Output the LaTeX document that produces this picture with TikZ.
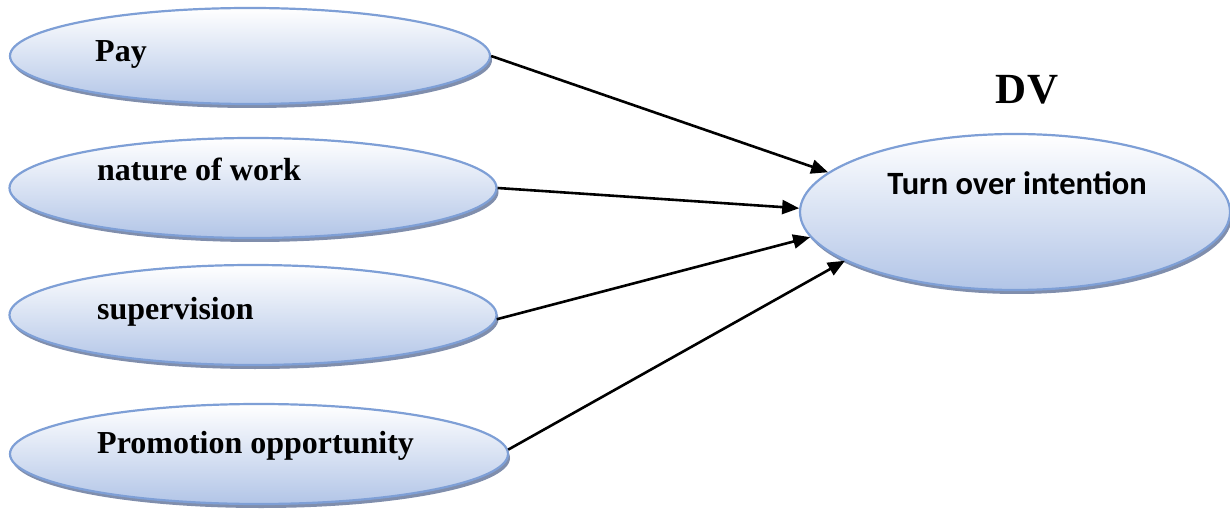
\documentclass[tikz,border=0pt]{standalone}
\usepackage{fontspec}
\setmainfont{Liberation Serif}
\newfontfamily\labelsans{Carlito}
\usetikzlibrary{shapes.geometric,shadows,arrows.meta}

\definecolor{rimblue}{RGB}{126,159,214}
\definecolor{fillblue}{RGB}{178,197,231}
\definecolor{shadowblue}{RGB}{128,142,172}

\tikzset{
  factor/.style={ellipse, draw=rimblue, line width=2.2pt, inner sep=0pt,
    top color=white, bottom color=fillblue, middle color=white!50!fillblue,
    drop shadow={shadow xshift=2pt, shadow yshift=-4pt, fill=shadowblue, opacity=1}},
  factortext/.style={anchor=base west, inner sep=0pt, font=\bfseries\fontsize{32}{32}\selectfont},
  link/.style={line width=2.6pt, -{Triangle[length=17pt,width=14pt]}}
}

\begin{document}
\begin{tikzpicture}[x=1pt,y=-1pt]
\useasboundingbox (0,0) rectangle (1230,510);

% independent factors
\node[factor, minimum width=480pt, minimum height=96pt] (pay) at (250,56) {};
\node[factor, minimum width=487pt, minimum height=100pt] (nat) at (253,188) {};
\node[factor, minimum width=487pt, minimum height=100pt] (sup) at (253,315) {};
\node[factor, minimum width=498pt, minimum height=100pt] (pro) at (259,454) {};

% dependent variable
\node[factor, minimum width=430pt, minimum height=156pt] (dv) at (1015,212) {};

\node[factortext] (payt) at (95,62) {Pay};
\node[factortext] (natt) at (97,181) {nature of work};
\node[factortext] (supt) at (97,319) {supervision};
\node[factortext] (prot) at (97,453) {Promotion opportunity};
\node[anchor=base, inner sep=0pt, font=\labelsans\bfseries\fontsize{32.5}{32.5}\selectfont] (dvt) at (1017,195) {Turn over intention};
\node[anchor=base, inner sep=0pt, font=\bfseries\fontsize{43}{43}\selectfont] (dvhead) at (1027,104) {DV};

% arrows into the dependent variable
\draw[link] (pay.east) -- (dv.168.5);
\draw[link] (nat.east) -- (dv.179.5);
\draw[link] (sup.-1.2) -- (dv.187);
\draw[link] (pro.1.5) -- (dv.196);
\end{tikzpicture}
\end{document}
